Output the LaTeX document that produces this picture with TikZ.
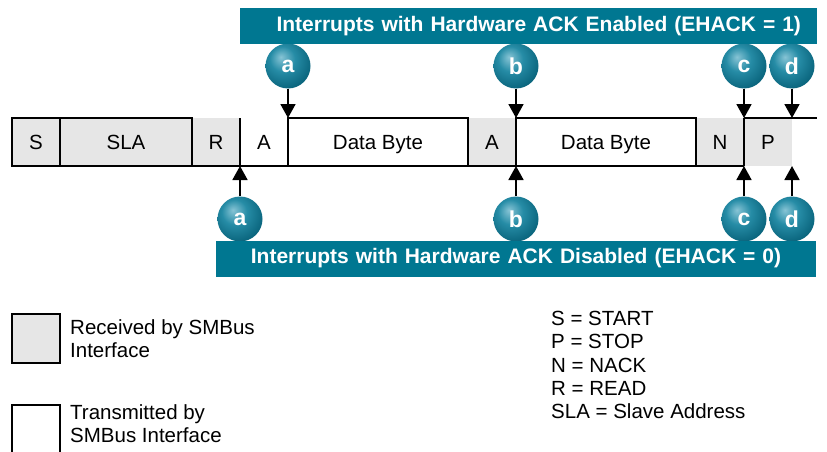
\documentclass[tikz,border=0pt]{standalone}
\usepackage{fontspec}
\setmainfont{Liberation Sans}
\usepackage{tikz}
\usetikzlibrary{arrows.meta,positioning}
\definecolor{smteal}{RGB}{0,119,145}
\definecolor{smgray}{RGB}{230,230,230}
\definecolor{bubhi}{RGB}{135,196,213}
\definecolor{bubmid}{RGB}{38,140,166}
\definecolor{bublo}{RGB}{8,98,122}
\pgfdeclareradialshading{bubble}{\pgfpoint{-8bp}{10bp}}{color(0bp)=(bubhi); color(14bp)=(bubmid); color(32bp)=(bublo); color(64bp)=(bublo)}

\begin{document}
\begin{tikzpicture}[x=1pt,y=-1pt,
  font=\fontsize{20.5}{23.3}\selectfont,>={Triangle[width=15pt,length=14pt]},
  fld/.style={minimum height=48pt,inner sep=0pt,outer sep=0pt,text height=14.7pt,text depth=0pt},
  rcv/.style={fld,fill=smgray},
  xmt/.style={fld,fill=white},
  bline/.style={line width=1.5pt},
  arr/.style={->,line width=1.8pt},
  bub/.style={circle,minimum size=45pt,inner sep=0pt,shading=bubble,text=white,font=\fontsize{23}{26}\selectfont\bfseries},
  banner/.style={fill=smteal,text=white,inner xsep=16pt,inner ysep=0pt,minimum height=36pt,font=\fontsize{21}{24}\selectfont\bfseries},
  keybox/.style={draw,line width=1.5pt,minimum width=48pt,inner sep=0pt},
  txt/.style={inner sep=0pt,align=left,anchor=west}]
\useasboundingbox (0,0) rectangle (827,452);
\node[rcv,minimum width=48pt,anchor=west] (s) at (12,142) {S};
\node[rcv,minimum width=132pt,right=0pt of s] (sla) {SLA};
\node[rcv,minimum width=48pt,right=0pt of sla] (r) {R};
\node[xmt,minimum width=48pt,right=0pt of r] (a1) {A};
\node[xmt,minimum width=180pt,right=0pt of a1] (d1) {Data Byte};
\node[rcv,minimum width=48pt,right=0pt of d1] (a2) {A};
\node[xmt,minimum width=180pt,right=0pt of a2] (d2) {Data Byte};
\node[rcv,minimum width=48pt,right=0pt of d2] (n) {N};
\node[rcv,minimum width=48pt,right=0pt of n] (p) {P};
\coordinate (tail) at ([xshift=25pt]p.north east);
\draw[bline] (s.south west) rectangle (sla.north east) (s.north east) -- (s.south east);
\draw[bline] (s.south west) -- (n.south east);
\draw[bline] (d1.south west) rectangle (d1.north east); \draw[bline] (d2.south west) rectangle (d2.north east);
\draw[bline] (r.north east) -- (r.south east) (a2.north east) -- (a2.south east) (n.north east) -- (n.south east);
\draw[bline] (p.north west) -- (tail);
\node[bub] (ea) at (288,66) {a};
\node[bub] (eb) at (516,66) {b};
\node[bub] (ec) at (744,66) {c};
\node[bub] (ed) at (792,66) {d};
\node[bub] (da) at (240,219) {a};
\node[bub] (db) at (516,219) {b};
\node[bub] (dc) at (744,219) {c};
\node[bub] (dd) at (792,219) {d};
\draw[arr] (ea) -- (ea |- s.north); \draw[arr] (eb) -- (eb |- s.north);
\draw[arr] (ec) -- (ec |- s.north); \draw[arr] (ed) -- (ed |- s.north);
\draw[arr] (da) -- (da |- s.south); \draw[arr] (db) -- (db |- s.south);
\draw[arr] (dc) -- (dc |- s.south); \draw[arr] (dd) -- (dd |- s.south);
\node[banner,text width=545pt,align=right] (enb) at (528.5,26.5) {Interrupts with Hardware ACK Enabled (EHACK = 1)};
\node[banner,text width=568pt,align=center] (dsb) at (516,258.5) {Interrupts with Hardware ACK Disabled (EHACK = 0)};
\node[keybox,fill=smgray,minimum height=49pt] (krcv) at (36,338.5) {};
\node[txt] (trcv) at (70,339) {Received by SMBus\\Interface};
\node[keybox,fill=white,minimum height=50pt] (kxmt) at (36,430) {};
\node[txt] (txmt) at (70,424) {Transmitted by\\SMBus Interface};
\node[txt] (abbr) at (551,365) {S = START\\P = STOP\\N = NACK\\R = READ\\SLA = Slave Address};
\end{tikzpicture}
\end{document}
